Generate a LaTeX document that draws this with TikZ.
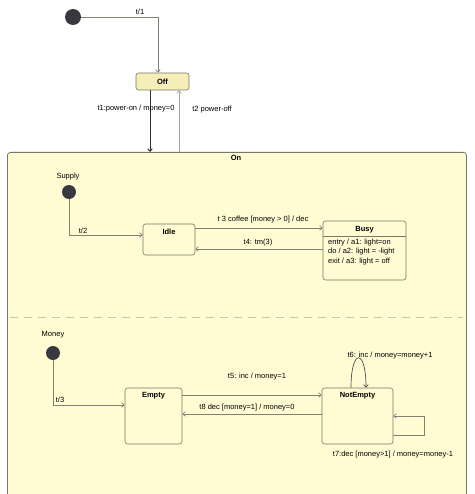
\documentclass[tikz,border=0pt]{standalone}
\usepackage{fontspec}
\setmainfont{Liberation Sans}
\usetikzlibrary{arrows.meta,calc}
\definecolor{onfill}{RGB}{255,252,212}
\definecolor{offfill}{RGB}{246,238,184}
\definecolor{stborder}{RGB}{120,118,105}
\definecolor{linegrey}{RGB}{130,128,115}
\definecolor{lightline}{RGB}{165,165,160}
\definecolor{dotcol}{RGB}{56,56,64}
\definecolor{dashcol}{RGB}{200,195,165}
\begin{document}
\begin{tikzpicture}[x=1pt,y=-1pt,
  font=\fontsize{7.5}{9}\selectfont,
  dot/.style={circle,fill=dotcol,inner sep=0pt},
  state/.style={draw=stborder,fill=onfill,rounded corners=2.5pt,inner sep=0pt,line width=0.6pt},
  stitle/.style={anchor=north,inner sep=0pt,yshift=-5pt,font=\bfseries\fontsize{7.5}{9}\selectfont},
  arr/.style={draw=linegrey,line width=0.7pt,-{Straight Barb[length=2.5pt,width=4.5pt]}},
  arrdark/.style={draw=black!80,line width=1pt,-{Straight Barb[length=2.5pt,width=4.5pt]}},
  arrlight/.style={draw=lightline,line width=0.7pt,-{Straight Barb[length=2.5pt,width=4.5pt]}},
  lbl/.style={inner sep=0pt}
]
\useasboundingbox (0,0) rectangle (474,494);
\fill[white] (0,0) rectangle (474,494);

% composite state On
\node[draw=stborder,fill=onfill,rounded corners=3pt,line width=0.8pt,inner sep=0pt,
      minimum width=459pt,minimum height=352pt,anchor=north west] (on) at (7,152) {};
\node[lbl,font=\bfseries\fontsize{7.5}{9}\selectfont] (ontitle) at (236,158) {On};

% region separator
\draw[dashcol,line width=0.8pt,dash pattern=on 8pt off 6pt] (10,317) -- (463,317);

% top level
\node[dot,minimum size=16pt] (init1) at (73,17) {};
\node[draw=stborder,fill=offfill,rounded corners=2.5pt,line width=0.6pt,inner sep=0pt,
      minimum width=53pt,minimum height=17pt,font=\bfseries\fontsize{7.5}{9}\selectfont] (off) at (162.5,81.5) {Off};

% Supply region
\node[lbl] (supplylbl) at (68,177) {Supply};
\node[dot,minimum size=14pt] (init2) at (69,192) {};
\node[state,minimum width=52pt,minimum height=31pt,label={[stitle]north:Idle}] (idle) at (169,239.5) {};
\node[state,minimum width=83pt,minimum height=59pt,label={[stitle,yshift=-0.5pt]north:Busy}] (busy) at (364.5,250.5) {};
\coordinate (ysep) at (0,236);
\draw[stborder,line width=0.6pt] (busy.west |- ysep) -- (busy.east |- ysep);
\node[lbl,anchor=north west,align=left,font=\fontsize{7.5}{9.5}\selectfont] (busytext) at (328,238.5)
  {entry / a1: light=on\\do / a2: light = -light\\exit / a3: light = off};

% Money region
\node[lbl] (moneylbl) at (53,335) {Money};
\node[dot,minimum size=14pt] (init3) at (53,353) {};
\node[state,minimum width=57pt,minimum height=56pt,label={[stitle,yshift=1pt]north:Empty}] (empty) at (153.5,416) {};
\node[state,minimum width=71pt,minimum height=56pt,label={[stitle,yshift=1pt]north:NotEmpty}] (notempty) at (357.5,416) {};

% helper coordinates
\coordinate (x150) at (150,0);
\coordinate (x179) at (179,0);
\coordinate (x351) at (351,0);
\coordinate (x366) at (366,0);
\coordinate (y228) at (0,228);
\coordinate (y249) at (0,249);
\coordinate (y395) at (0,395);
\coordinate (y414) at (0,414);
\coordinate (y416) at (0,416);
\coordinate (y435) at (0,435);
\coordinate (x424) at (424,0);

% transitions
\draw[arr] (init1.east) -| ($(off.north)+(-4.5,0)$);
\node[lbl] (lt1a) at (140,12) {t/1};

\draw[arrdark] (off.south -| x150) -- (on.north -| x150);
\node[lbl] (lt1) at (136,109) {t1:power-on / money=0};
\draw[arrlight] (on.north -| x179) -- (off.south -| x179);
\node[lbl] (lt2) at (212,110) {t2 power-off};

\draw[arr] (init2.south) |- ($(idle.west)+(0,-4.5)$);
\node[lbl] (lt2b) at (83,231) {t/2};

\draw[arr] (idle.east |- y228) -- (busy.west |- y228);
\node[lbl] (lt3) at (263,220) {t 3 coffee [money > 0] / dec};
\draw[arr] (busy.west |- y249) -- (idle.east |- y249);
\node[lbl] (lt4) at (258,243) {t4: tm(3)};

\draw[arr] (init3.south) |- ($(empty.west)+(0,-11)$);
\node[lbl] (lt3b) at (60,400) {t/3};

\draw[arr] (empty.east |- y395) -- (notempty.west |- y395);
\node[lbl] (lt5) at (257,377) {t5: inc / money=1};
\draw[arr] (notempty.west |- y414) -- (empty.east |- y414);
\node[lbl] (lt8) at (247,408) {t8 dec [money=1] / money=0};

\draw[arrdark,draw=black!70,line width=0.7pt] (notempty.north -| x351) .. controls (351,348) and (366,348) .. (notempty.north -| x366);
\node[lbl] (lt6) at (390,356) {t6: inc / money=money+1};

\draw[arr] (notempty.east |- y435) -- (x424 |- y435) -- (x424 |- y416) -- (notempty.east |- y416);
\node[lbl] (lt7) at (393,455) {t7:dec [money>1] / money=money-1};
\end{tikzpicture}
\end{document}
